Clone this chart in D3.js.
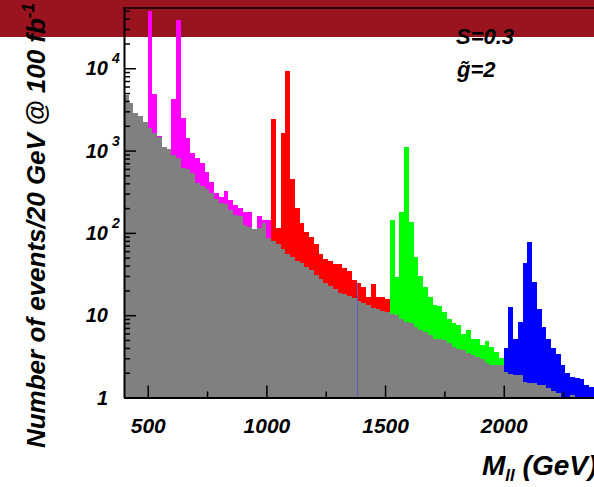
<!DOCTYPE html>
<html><head><meta charset="utf-8">
<script src="https://cdn.jsdelivr.net/npm/d3@7"></script>
<style>html,body{margin:0;padding:0;background:#fff;overflow:hidden}</style>
</head><body>
<svg id="c" width="594" height="487"></svg>
<script>
// ---- data (events / 20 GeV bin) ----
const binLow = 400, binWidth = 20;
const background = [4738, 3755, 2887, 2633, 2245, 1866, 1623, 1451, 1115, 1037,
  884, 806, 620, 598, 530, 401, 372, 339, 303, 258,
  233, 224, 190, 165, 160, 125, 119, 112, 115, 131,
  86.7, 79.7, 72.7, 63.2, 55.4, 50.5, 45.9, 42.7, 38.2, 35.4,
  30.8, 27.3, 24.4, 22.6, 20.6, 18.8, 18.1, 17.1, 16.4, 14.9,
  14.1, 13.3, 12.4, 11.9, 11.2, 10.8, 10.3, 10.1, 8.9, 8.3,
  8.0, 7.1, 6.7, 6.3, 5.7, 5.2, 5.1, 5.0, 4.6, 4.1,
  3.85, 3.78, 3.5, 3.28, 3.13, 2.91, 2.60, 2.50, 2.45, 2.45,
  2.06, 1.93, 1.88, 1.86, 1.56, 1.49, 1.48, 1.42, 1.41, 1.29,
  1.21, 1.12, 1.02, 0, 1.07, 0, 0, 0, 0, 0];
const magentaFrom = 500;
const magentaTotals = [49700, 4831, 1484, 1115, 1037, 4201, 38630, 2469, 1411, 943,
  806, 701, 554, 419, 305, 273, 323, 251, 218, 201, 179, 181, 113, 160, 143, 143];
const redFrom = 1020;
const redTotals = [2421, 115, 1623, 9350, 452, 202, 131, 103, 88.4, 73.3,
  55.4, 47.8, 45.9, 41.9, 41.9, 37.1, 34.7, 26.8, 24.8, 21.8, 16.8, 23.7, 16.5, 16.8, 15.7];
const greenFrom = 1520;
const greenTotals = [143.5, 29.4, 181, 1097, 137, 51.4, 29.9, 21.8, 16.8, 13.3,
  12.9, 10.8, 9.0, 8.1, 7.6, 5.9, 6.6, 5.2, 5.2, 4.3, 4.8, 4.1, 3.6, 3.0];
const blueFrom = 2000;
const blueTotals = [4.03, 12.5, 5.1, 8.2, 42.7, 76.9, 25.1, 11.9, 7.25, 5.1,
  3.96, 3.35, 2.48, 2.0, 1.77, 1.72, 1.68, 1.43, 1.36, 1.3];
const xTickMajor = [500, 1000, 1500, 2000];
const xTickMinor = [750, 1250, 1750, 2250];
const yTickMajor = [1, 10, 100, 1000, 10000];
const yTickBase = ["1", "10", "10", "10", "10"];
const yTickExp = ["", "", "2", "3", "4"];
const markerMass = 1383, markerTop = 24.6;

// ---- drawing ----
const svg = d3.select("#c");
const FONT = "'Liberation Sans', Arial, Helvetica, sans-serif";
const x = d3.scaleLinear().domain([400, 2500]).range([124, 622.4]);
const y = d3.scaleLog().domain([1, 54000]).range([397.5, 8]);

svg.append("rect").attr("x", 0).attr("y", 0).attr("width", 594).attr("height", 37).attr("fill", "#99141f");

svg.append("clipPath").attr("id", "plot").append("rect")
  .attr("x", 124).attr("y", 8).attr("width", 500).attr("height", 389.5);
const g = svg.append("g").attr("clip-path", "url(#plot)");

function bars(from, vals, color) {
  const data = vals.map((v, i) => ({ m: from + i * binWidth, v })).filter(d => d.v > 1);
  g.append("g").selectAll("rect").data(data).join("rect")
    .attr("x", d => x(d.m))
    .attr("width", d => x(d.m + binWidth) - x(d.m))
    .attr("y", d => y(d.v))
    .attr("height", d => y(1) - y(d.v))
    .attr("fill", color)
    .attr("shape-rendering", "crispEdges");
}
bars(magentaFrom, magentaTotals, "#ff00ff");
bars(redFrom, redTotals, "#ff0000");
bars(greenFrom, greenTotals, "#00ff00");
bars(blueFrom, blueTotals, "#0000ff");
bars(binLow, background, "#808080");

g.append("line").attr("x1", x(markerMass)).attr("x2", x(markerMass))
  .attr("y1", y(markerTop)).attr("y2", y(1))
  .attr("stroke", "#5a5ac8").attr("stroke-width", 1).attr("shape-rendering", "crispEdges");

// axes
const xAxis = svg.append("g").attr("transform", "translate(0,397.5)")
  .call(d3.axisBottom(x).tickValues(xTickMajor).tickSizeInner(-12).tickSizeOuter(0)
    .tickPadding(20.5).tickFormat(d3.format("d")));
svg.append("g").attr("transform", "translate(0,397.5)")
  .call(d3.axisBottom(x).tickValues(xTickMinor).tickSizeInner(-6).tickSizeOuter(0).tickFormat(""))
  .select(".domain").remove();
xAxis.select(".domain").attr("stroke-width", 2);
xAxis.selectAll("text").attr("font-family", FONT).attr("font-size", 21)
  .attr("font-weight", "bold").attr("font-style", "italic").attr("fill", "#000");

const minorY = [];
for (let e = 0; e < 5; e++) for (let k = 2; k <= 9; k++) { const v = k * Math.pow(10, e); if (v < 54000) minorY.push(v); }
const yAxis = svg.append("g").attr("transform", "translate(124,0)")
  .call(d3.axisLeft(y).tickValues(yTickMajor).tickSizeInner(-12).tickSizeOuter(0).tickFormat(""));
yAxis.select(".domain").attr("stroke-width", 2);
svg.append("g").attr("transform", "translate(124,0)")
  .call(d3.axisLeft(y).tickValues(minorY).tickSizeInner(-6).tickSizeOuter(0).tickFormat(""))
  .select(".domain").remove();
svg.selectAll(".tick line").attr("stroke-width", 1.5);

const yl = svg.append("g").attr("font-family", FONT).attr("font-weight", "bold").attr("font-style", "italic");
yTickMajor.forEach((v, i) => {
  yl.append("text").attr("x", 108).attr("y", y(v) + 7).attr("text-anchor", "end")
    .attr("font-size", 20).text(yTickBase[i]);
  if (yTickExp[i]) yl.append("text").attr("x", 112).attr("y", y(v) - 5)
    .attr("font-size", 14).text(yTickExp[i]);
});

// top frame
svg.append("line").attr("x1", 123).attr("x2", 622).attr("y1", 8).attr("y2", 8)
  .attr("stroke", "#000").attr("stroke-width", 1.5);

// titles
const t = svg.append("g").attr("font-family", FONT).attr("font-weight", "bold").attr("font-style", "italic").attr("fill", "#000");
const yt = t.append("text").attr("transform", "translate(45,3) rotate(-90)")
  .attr("text-anchor", "end").attr("font-size", 26);
yt.append("tspan").text("Number of events/20 GeV @ 100 fb");
yt.append("tspan").attr("font-size", 17).attr("dy", -11).text("-1");

const xt = t.append("text").attr("x", 482).attr("y", 475).attr("font-size", 28);
xt.append("tspan").text("M");
xt.append("tspan").attr("font-size", 17).attr("dy", 6).text("ll");
xt.append("tspan").attr("dy", -6).text(" (GeV)");

t.append("text").attr("x", 456).attr("y", 44).attr("font-size", 22).text("S=0.3");
t.append("text").attr("x", 457).attr("y", 77).attr("font-size", 22).text("g\u0303=2");
</script>
</body></html>
